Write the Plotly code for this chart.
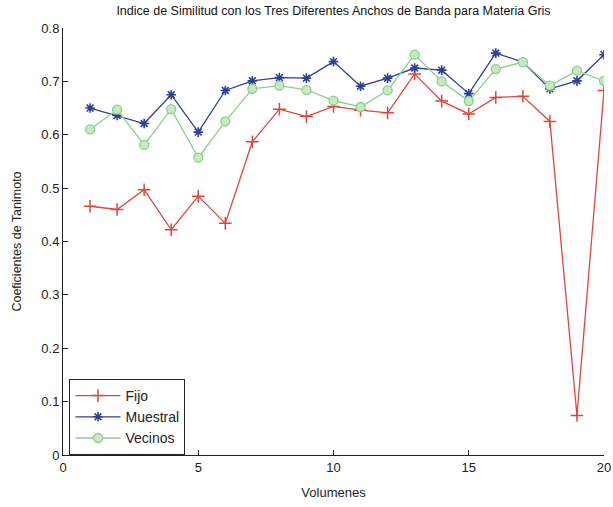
import plotly.graph_objects as go

volumes = list(range(1, 21))
fijo = [0.466, 0.460, 0.497, 0.422, 0.485, 0.434, 0.587, 0.648, 0.634, 0.653,
        0.646, 0.641, 0.714, 0.663, 0.639, 0.670, 0.672, 0.625, 0.074, 0.683]
muestral = [0.650, 0.636, 0.621, 0.675, 0.605, 0.683, 0.701, 0.707, 0.706, 0.737,
            0.691, 0.706, 0.725, 0.721, 0.677, 0.753, 0.736, 0.686, 0.701, 0.750]
vecinos = [0.610, 0.647, 0.581, 0.648, 0.557, 0.625, 0.686, 0.692, 0.684, 0.664,
           0.652, 0.683, 0.750, 0.700, 0.663, 0.723, 0.736, 0.692, 0.720, 0.701]

fig = go.Figure()
fig.add_trace(go.Scatter(x=volumes, y=fijo, name="Fijo", mode="lines+markers",
                         line=dict(color="#d9483f", width=1.3),
                         marker=dict(symbol="cross-thin-open", size=9,
                                     line=dict(color="#d9483f", width=1.5))))
fig.add_trace(go.Scatter(x=volumes, y=muestral, name="Muestral", mode="lines+markers",
                         line=dict(color="#2f3f96", width=1.3),
                         marker=dict(symbol="asterisk-open", size=8,
                                     line=dict(color="#2f3f96", width=1.6))))
fig.add_trace(go.Scatter(x=volumes, y=vecinos, name="Vecinos", mode="lines+markers",
                         line=dict(color="#8ccf8c", width=1.3),
                         marker=dict(symbol="circle", size=9, color="#c8e8c0",
                                     line=dict(color="#8ccf8c", width=1.3))))

fig.update_layout(
    width=613, height=507,
    margin=dict(l=63, r=9, t=28, b=52),
    paper_bgcolor="white", plot_bgcolor="white",
    font=dict(family="Liberation Sans, Arial, sans-serif", size=12, color="#222"),
    title=dict(text="Indice de Similitud con los Tres Diferentes Anchos de Banda para Materia Gris",
               x=0.5, xanchor="center", xref="paper", y=1, yref="container", yanchor="top",
               pad=dict(t=6), font=dict(size=12.5, color="#111")),
    showlegend=True,
    legend=dict(x=0.012, y=0.0, xanchor="left", yanchor="bottom",
                bordercolor="#222", borderwidth=1, bgcolor="white", itemwidth=45,
                font=dict(size=14, color="#222"), tracegroupgap=0),
)
fig.update_xaxes(range=[0, 20], tickvals=[0, 5, 10, 15, 20], showgrid=False, zeroline=False,
                 showline=True, linecolor="#222", linewidth=1, ticks="inside", ticklen=5,
                 tickcolor="#222", automargin=False,
                 title=dict(text="Volumenes", standoff=14, font=dict(size=13)),
                 tickfont=dict(size=13))
fig.update_yaxes(range=[0, 0.8], tickvals=[0, 0.1, 0.2, 0.3, 0.4, 0.5, 0.6, 0.7, 0.8],
                 showgrid=False, zeroline=False, showline=True, linecolor="#222", linewidth=1,
                 ticks="inside", ticklen=5, tickcolor="#222", automargin=False,
                 title=dict(text="Coeficientes de Tanimoto", standoff=16, font=dict(size=12.5)),
                 tickfont=dict(size=13))

fig.write_html("out.html")
